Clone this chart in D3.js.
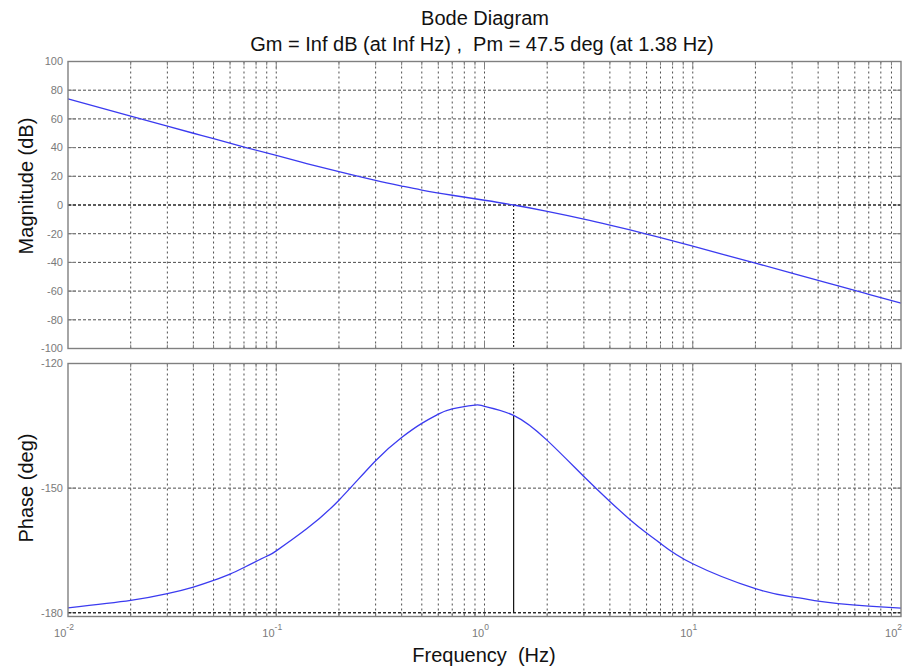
<!DOCTYPE html>
<html>
<head>
<meta charset="utf-8">
<script src="https://cdn.jsdelivr.net/npm/d3@7/dist/d3.min.js"></script>
<style>
  html, body { margin: 0; padding: 0; background: #fff; }
  svg { display: block; font-family: "Liberation Sans", Arial, sans-serif; }
</style>
</head>
<body>
<svg id="chart" width="903" height="668"></svg>
<script>
// Open-loop frequency response
const magFreq = [0.01, 0.02, 0.03, 0.04, 0.05, 0.07, 0.1, 0.14, 0.2, 0.3, 0.4, 0.5, 0.7, 1.0, 1.38,
                 2, 3, 4, 5, 6, 7, 10, 20, 30, 40, 50, 70, 100];
const magDb   = [74.0, 62.0, 55.0, 50.0, 46.2, 40.4, 34.5, 28.9, 23.2, 17.1, 13.2, 10.4, 6.8, 3.3, 0,
                 -4.4, -9.8, -14.0, -17.4, -20.3, -22.8, -28.7, -40.5, -47.5, -52.5, -56.4, -62.2, -68.4];

const phaseFreq = [0.01, 0.02, 0.03, 0.04, 0.05, 0.06, 0.07, 0.09, 0.1, 0.14, 0.2, 0.3, 0.4, 0.5, 0.6, 0.7,
                   0.9, 1.0, 1.38, 2, 3, 4, 5, 6, 7, 10, 20, 30, 40, 50, 70, 100];
const phaseDeg  = [-178.8, -177.0, -175.4, -173.8, -172.2, -170.7, -169.1, -166.4, -165.1, -159.8, -152.9,
                   -143.4, -137.8, -134.4, -132.2, -130.9, -130.0, -130.3, -132.5, -138.5, -147.2, -153.2,
                   -157.6, -160.8, -163.3, -168.2, -174.2, -176.2, -177.2, -177.8, -178.4, -178.9];

// Stability margins
const gainMarginText = "Inf";
const phaseMargin = 47.5;     // deg
const crossoverHz = 1.38;     // Hz

// Axis ticks
const magTicks = [-100, -80, -60, -40, -20, 0, 20, 40, 60, 80, 100];
const phaseTicks = [-180, -150, -120];
const decadeExps = [-2, -1, 0, 1, 2];

const svg = d3.select("#chart");

const x = d3.scaleLog().domain([0.01, 100]).range([68, 901]);
const yMag = d3.scaleLinear().domain([-100, 100]).range([348.5, 61.5]);
const yPh = d3.scaleLinear().domain([-180.9, -120]).range([616.5, 363.5]);

// Minor and major log grid positions (interior)
const gridFreqs = [];
decadeExps.slice(0, -1).forEach(e => {
  for (let m = 1; m <= 9; m++) {
    const f = m * Math.pow(10, e);
    if (f > 0.01 && f < 100) gridFreqs.push(f);
  }
});

const frameColor = "#808080";
const gridColor = "#3a3a3a";
const curveColor = "#3b3bf0";
const labelColor = "#7a7a7a";

function drawPanel(yScale, yTicks, yTop, yBot) {
  const g = svg.append("g");
  const [x0, x1] = x.range();

  // vertical grid
  g.selectAll("line.vg").data(gridFreqs).join("line")
    .attr("x1", d => x(d)).attr("x2", d => x(d))
    .attr("y1", yTop).attr("y2", yBot)
    .attr("stroke", gridColor).attr("stroke-width", 0.9)
    .attr("stroke-dasharray", "2,3");

  // horizontal grid
  g.selectAll("line.hg").data(yTicks).join("line")
    .attr("x1", x0).attr("x2", x1)
    .attr("y1", d => yScale(d)).attr("y2", d => yScale(d))
    .attr("stroke", gridColor).attr("stroke-width", 0.9)
    .attr("stroke-dasharray", "3,2");

  // ticks inside the frame
  const tickLen = d => (Number.isInteger(Math.log10(d)) ? 8 : 4);
  g.selectAll("line.tb").data(gridFreqs).join("line")
    .attr("x1", d => x(d)).attr("x2", d => x(d))
    .attr("y1", yBot).attr("y2", d => yBot - tickLen(d))
    .attr("stroke", frameColor).attr("stroke-width", 1);
  g.selectAll("line.tt").data(gridFreqs).join("line")
    .attr("x1", d => x(d)).attr("x2", d => x(d))
    .attr("y1", yTop).attr("y2", d => yTop + tickLen(d))
    .attr("stroke", frameColor).attr("stroke-width", 1);
  g.selectAll("line.tr").data(yTicks).join("line")
    .attr("x1", x1).attr("x2", x1 - 8)
    .attr("y1", d => yScale(d)).attr("y2", d => yScale(d))
    .attr("stroke", frameColor).attr("stroke-width", 1);
  g.selectAll("line.tl").data(yTicks).join("line")
    .attr("x1", x0).attr("x2", x0 + 8)
    .attr("y1", d => yScale(d)).attr("y2", d => yScale(d))
    .attr("stroke", frameColor).attr("stroke-width", 1);

  // y tick labels
  g.selectAll("text.yl").data(yTicks).join("text")
    .attr("x", x0 - 5).attr("y", d => yScale(d))
    .attr("dy", "0.35em")
    .attr("text-anchor", "end")
    .attr("font-size", 11)
    .attr("fill", labelColor)
    .text(d => d);

  return g;
}

// ---------- Magnitude panel ----------
const gMag = drawPanel(yMag, magTicks.filter(d => d > -100 && d < 100), 61.5, 348.5);
gMag.selectAll("text.ext").data([-100, 100]).join("text")
  .attr("x", 63).attr("y", d => yMag(d)).attr("dy", "0.35em")
  .attr("text-anchor", "end").attr("font-size", 11).attr("fill", labelColor)
  .text(d => d);

// 0 dB reference and crossover marker
gMag.append("line")
  .attr("x1", x(0.01)).attr("x2", x(100))
  .attr("y1", yMag(0)).attr("y2", yMag(0))
  .attr("stroke", "#111").attr("stroke-width", 1.1).attr("stroke-dasharray", "3,2");
gMag.append("line")
  .attr("x1", x(crossoverHz)).attr("x2", x(crossoverHz))
  .attr("y1", yMag(0)).attr("y2", yMag(-100))
  .attr("stroke", "#111").attr("stroke-width", 1.1).attr("stroke-dasharray", "2,2");

const magLine = d3.line()
  .x((d, i) => x(magFreq[i]))
  .y(d => yMag(d))
  .curve(d3.curveNatural);
gMag.append("path")
  .attr("d", magLine(magDb))
  .attr("fill", "none").attr("stroke", curveColor).attr("stroke-width", 1.3);

gMag.append("rect")
  .attr("x", 68).attr("y", 61.5).attr("width", 833).attr("height", 287)
  .attr("fill", "none").attr("stroke", frameColor).attr("stroke-width", 1.4);

// ---------- Phase panel ----------
const gPh = drawPanel(yPh, phaseTicks, 363.5, 616.5);

const phaseAtCross = -180 + phaseMargin;
gPh.append("line")
  .attr("x1", x(0.01)).attr("x2", x(100))
  .attr("y1", yPh(-180)).attr("y2", yPh(-180))
  .attr("stroke", "#111").attr("stroke-width", 1.1).attr("stroke-dasharray", "3,2");
gPh.append("line")
  .attr("x1", x(crossoverHz)).attr("x2", x(crossoverHz))
  .attr("y1", yPh(-120)).attr("y2", yPh(phaseAtCross))
  .attr("stroke", "#111").attr("stroke-width", 1.1).attr("stroke-dasharray", "2,2");
gPh.append("line")
  .attr("x1", x(crossoverHz)).attr("x2", x(crossoverHz))
  .attr("y1", yPh(phaseAtCross)).attr("y2", yPh(-180))
  .attr("stroke", "#111").attr("stroke-width", 1.2);

const phLine = d3.line()
  .x((d, i) => x(phaseFreq[i]))
  .y(d => yPh(d))
  .curve(d3.curveNatural);
gPh.append("path")
  .attr("d", phLine(phaseDeg))
  .attr("fill", "none").attr("stroke", curveColor).attr("stroke-width", 1.3);

gPh.append("rect")
  .attr("x", 68).attr("y", 363.5).attr("width", 833).attr("height", 253)
  .attr("fill", "none").attr("stroke", frameColor).attr("stroke-width", 1.4);

// x tick labels (10^n)
const xl = svg.append("g");
decadeExps.forEach((e, i) => {
  const last = i === decadeExps.length - 1;
  const t = xl.append("text")
    .attr("x", last ? 902 : x(Math.pow(10, e)) - 4).attr("y", 637)
    .attr("text-anchor", last ? "end" : "middle")
    .attr("font-size", 11).attr("fill", labelColor);
  t.append("tspan").text("10");
  t.append("tspan").attr("dy", -7).attr("font-size", 8.5).text(e);
});

// Titles and axis labels
svg.append("text")
  .attr("x", 485).attr("y", 25)
  .attr("text-anchor", "middle").attr("font-size", 20).attr("fill", "#111")
  .text("Bode Diagram");
svg.append("text")
  .attr("x", 482).attr("y", 51)
  .attr("text-anchor", "middle").attr("font-size", 20).attr("fill", "#111")
  .attr("xml:space", "preserve")
  .text(`Gm = ${gainMarginText} dB (at ${gainMarginText} Hz) ,  Pm = ${phaseMargin} deg (at ${crossoverHz} Hz)`);

svg.append("text")
  .attr("transform", "translate(33,186) rotate(-90)")
  .attr("text-anchor", "middle").attr("font-size", 20).attr("fill", "#111")
  .text("Magnitude (dB)");
svg.append("text")
  .attr("transform", "translate(33,488) rotate(-90)")
  .attr("text-anchor", "middle").attr("font-size", 20).attr("fill", "#111")
  .text("Phase (deg)");
svg.append("text")
  .attr("x", 484).attr("y", 662)
  .attr("text-anchor", "middle").attr("font-size", 20).attr("fill", "#111")
  .attr("xml:space", "preserve")
  .text("Frequency  (Hz)");
</script>
</body>
</html>
